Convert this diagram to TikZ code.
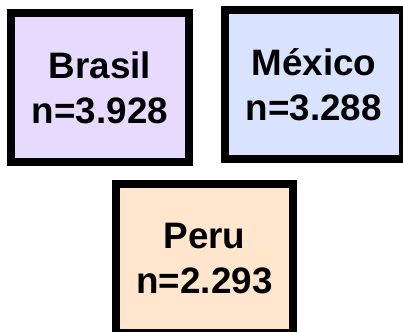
\documentclass[tikz,border=0pt]{standalone}
\usepackage{fontspec}
\setmainfont{Liberation Sans}
\definecolor{brfill}{HTML}{E7DAFF}
\definecolor{mxfill}{HTML}{D9E2FF}
\definecolor{pefill}{HTML}{FFE6CC}
\begin{document}
\begin{tikzpicture}[x=1pt,y=-1pt,
  countrybox/.style={draw=black, line width=8pt, rectangle, minimum width=177.4pt, minimum height=149pt, inner sep=0pt, align=center, font=\fontsize{36.8}{45}\selectfont\bfseries}]
\useasboundingbox (0,0) rectangle (403,331);
\node[countrybox, fill=brfill] (brasil) at (100,87.5) {Brasil\\n=3.928};
\node[countrybox, fill=mxfill] (mexico) at (313.85,84.65) {México\\n=3.288};
\node[countrybox, fill=pefill] (peru) at (204.5,258.35) {Peru\\n=2.293};
\end{tikzpicture}
\end{document}
